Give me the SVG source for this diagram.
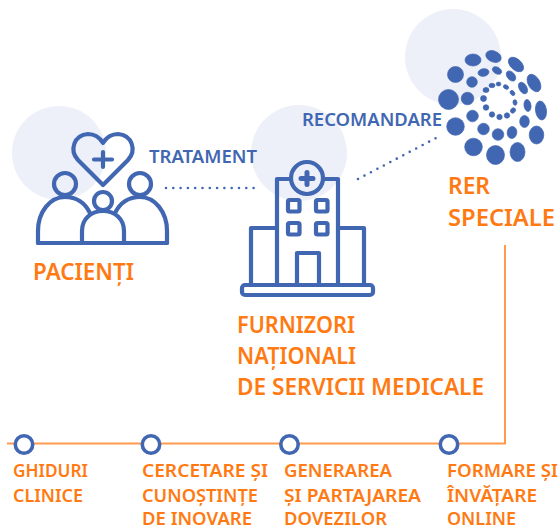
<svg xmlns="http://www.w3.org/2000/svg" width="559" height="530" viewBox="0 0 559 530">
<style>
.bg{fill:#edf0f8}
.ic{fill:none;stroke:#4267b2;stroke-width:4.2;stroke-linejoin:round;stroke-linecap:round}
.o{font-family:"Noto Sans","Open Sans",sans-serif;font-weight:600;fill:#ff7a12}
.l{font-size:24px}
.s{font-size:18.5px}
.b{font-family:"Noto Sans","Open Sans",sans-serif;font-weight:600;fill:#4267b2;font-size:18.5px}
.dot{fill:none;stroke:#4267b2;stroke-width:2.6;stroke-linecap:round;stroke-dasharray:0 7.3}
.d{fill:#4267b2;stroke:#4267b2;stroke-width:.7}
.n{fill:#fff;stroke:#4267b2;stroke-width:3.6}
</style>
<g id="connectors">
<path class="dot" d="M166 188H254"/>
<path class="dot" d="M358 179L438 137"/>
<path d="M505 245V443.500H7" fill="none" stroke="#ff9a4d" stroke-width="2"/>
</g>
<g id="pacienti">
<circle class="bg" cx="59" cy="153" r="47"/>
<path class="ic" d="M103 185L78 160C69 150 74 135 88 134C95 134 100 138 103 143C106 138 111 134 118 134C132 135 137 150 128 160Z"/>
<path class="ic" d="M103 152V167M94 159.500H112"/>
<circle class="ic" cx="65" cy="184" r="11"/>
<circle class="ic" cx="140" cy="184" r="11"/>
<circle class="ic" cx="103" cy="201" r="9"/>
<path class="ic" d="M38 243V231C38 212 50 197 65 197C76 197 85 203 90 213"/>
<path class="ic" d="M167 243V231C167 212 155 197 140 197C129 197 120 203 115 213"/>
<path class="ic" d="M82 243V231C82 219 91 211 103 211C115 211 124 219 124 231V243"/>
<path class="ic" d="M38 243H167"/>
<text class="o l" x="33" y="280" textLength="101" lengthAdjust="spacingAndGlyphs">PACIENȚI</text>
</g>
<g id="furnizori">
<circle class="bg" cx="299" cy="153" r="48"/>
<rect class="ic" x="242" y="285" width="131" height="10" rx="3"/>
<path class="ic" d="M277 284V179H291M323 179H338V284"/>
<path class="ic" d="M277 228H251V284M338 228H364V284"/>
<circle class="ic" cx="307" cy="178" r="16"/>
<path d="M307 172.500V184.500M301 178.500H313" fill="none" stroke="#4267b2" stroke-width="5" stroke-linecap="round"/>
<rect class="ic" x="288" y="200" width="11.500" height="11.500" rx="1.500"/>
<rect class="ic" x="316" y="200" width="11.500" height="11.500" rx="1.500"/>
<rect class="ic" x="288" y="223" width="11.500" height="11.500" rx="1.500"/>
<rect class="ic" x="316" y="223" width="11.500" height="11.500" rx="1.500"/>
<path class="ic" d="M297 284V253H319V284"/>
<text class="o l" x="237" y="333" textLength="118" lengthAdjust="spacingAndGlyphs">FURNIZORI</text>
<text class="o l" x="237" y="364" textLength="119" lengthAdjust="spacingAndGlyphs">NAȚIONALI</text>
<text class="o l" x="237" y="395" textLength="247" lengthAdjust="spacingAndGlyphs">DE SERVICII MEDICALE</text>
<text class="b" x="149" y="163" textLength="108" lengthAdjust="spacingAndGlyphs">TRATAMENT</text>
<text class="b" x="302" y="126" textLength="140" lengthAdjust="spacingAndGlyphs">RECOMANDARE</text>
</g>
<g id="rer">
<circle class="bg" cx="453" cy="57" r="48"/>
<ellipse class="d" cx="473" cy="60" rx="8" ry="6"/>
<ellipse class="d" cx="493.500" cy="56.500" rx="8" ry="5.500" transform="rotate(22 493.500 56.500)"/>
<circle class="d" cx="455.500" cy="74.500" r="8"/>
<ellipse class="d" cx="483.500" cy="72.500" rx="5.500" ry="3.800" transform="rotate(-10 483.500 72.500)"/>
<ellipse class="d" cx="497" cy="70.500" rx="5" ry="3.300" transform="rotate(30 497 70.500)"/>
<ellipse class="d" cx="516" cy="64.500" rx="9" ry="5.500" transform="rotate(42 516 64.500)"/>
<ellipse class="d" cx="534" cy="83" rx="9.500" ry="5.800" transform="rotate(60 534 83)"/>
<ellipse class="d" cx="511" cy="76" rx="5.800" ry="3.800" transform="rotate(50 511 76)"/>
<ellipse class="d" cx="523" cy="88" rx="6.300" ry="3.800" transform="rotate(60 523 88)"/>
<circle class="d" cx="472" cy="82" r="5.300"/>
<circle class="d" cx="448.500" cy="99.500" r="10"/>
<circle class="d" cx="467.500" cy="98.500" r="6.300"/>
<ellipse class="d" cx="486" cy="90" rx="3" ry="2.500"/>
<ellipse class="d" cx="492" cy="85.500" rx="3" ry="2.200"/>
<ellipse class="d" cx="498.500" cy="84" rx="2.400" ry="2"/>
<ellipse class="d" cx="506" cy="87" rx="2.800" ry="2" transform="rotate(30 506 87)"/>
<ellipse class="d" cx="512.500" cy="93" rx="2.800" ry="2" transform="rotate(50 512.500 93)"/>
<ellipse class="d" cx="515" cy="102.500" rx="2.800" ry="2" transform="rotate(80 515 102.500)"/>
<ellipse class="d" cx="513" cy="110.500" rx="2.800" ry="2.300" transform="rotate(-50 513 110.500)"/>
<circle class="d" cx="507" cy="115.500" r="2.700"/>
<circle class="d" cx="499.500" cy="117" r="2.700"/>
<circle class="d" cx="492" cy="114.500" r="2.700"/>
<circle class="d" cx="486" cy="107.500" r="2.800"/>
<circle class="d" cx="483.500" cy="98.500" r="3"/>
<ellipse class="d" cx="527.500" cy="105.500" rx="3.500" ry="6" transform="rotate(-8 527.500 105.500)"/>
<ellipse class="d" cx="541" cy="110.500" rx="5.500" ry="9.500" transform="rotate(-8 541 110.500)"/>
<ellipse class="d" cx="524.500" cy="121.500" rx="4.800" ry="6"/>
<ellipse class="d" cx="536.500" cy="135" rx="7.300" ry="9"/>
<ellipse class="d" cx="512" cy="132.500" rx="4.800" ry="6" transform="rotate(8 512 132.500)"/>
<circle class="d" cx="498" cy="134.500" r="5.800"/>
<circle class="d" cx="483.500" cy="129" r="5.800"/>
<circle class="d" cx="472.500" cy="116" r="5.800"/>
<circle class="d" cx="455.500" cy="126.500" r="8.800"/>
<circle class="d" cx="473.500" cy="147" r="8.800"/>
<ellipse class="d" cx="495.500" cy="155" rx="9" ry="9.500"/>
<ellipse class="d" cx="517.500" cy="152" rx="7.500" ry="9.500"/>
<text class="o l" x="448" y="194" textLength="42" lengthAdjust="spacingAndGlyphs">RER</text>
<text class="o l" x="448" y="226" textLength="107" lengthAdjust="spacingAndGlyphs">SPECIALE</text>
</g>
<g id="ghiduri">
<circle class="n" cx="24" cy="444.500" r="8.700"/>
<text class="o s" x="13" y="477" textLength="75" lengthAdjust="spacingAndGlyphs">GHIDURI</text>
<text class="o s" x="13" y="501.500" textLength="70" lengthAdjust="spacingAndGlyphs">CLINICE</text>
</g>
<g id="cercetare">
<circle class="n" cx="151" cy="444.500" r="8.700"/>
<text class="o s" x="142" y="477" textLength="126" lengthAdjust="spacingAndGlyphs">CERCETARE ȘI</text>
<text class="o s" x="142" y="501.500" textLength="116" lengthAdjust="spacingAndGlyphs">CUNOȘTINȚE</text>
<text class="o s" x="142" y="525" textLength="110" lengthAdjust="spacingAndGlyphs">DE INOVARE</text>
</g>
<g id="generarea">
<circle class="n" cx="289.500" cy="444.500" r="8.700"/>
<text class="o s" x="284" y="477" textLength="108" lengthAdjust="spacingAndGlyphs">GENERAREA</text>
<text class="o s" x="284" y="501.500" textLength="137" lengthAdjust="spacingAndGlyphs">ȘI PARTAJAREA</text>
<text class="o s" x="284" y="525" textLength="103" lengthAdjust="spacingAndGlyphs">DOVEZILOR</text>
</g>
<g id="formare">
<circle class="n" cx="449" cy="444.500" r="8.700"/>
<text class="o s" x="447" y="477" textLength="111" lengthAdjust="spacingAndGlyphs">FORMARE ȘI</text>
<text class="o s" x="447" y="501.500" textLength="90" lengthAdjust="spacingAndGlyphs">ÎNVĂȚARE</text>
<text class="o s" x="447" y="525" textLength="69" lengthAdjust="spacingAndGlyphs">ONLINE</text>
</g>
</svg>
